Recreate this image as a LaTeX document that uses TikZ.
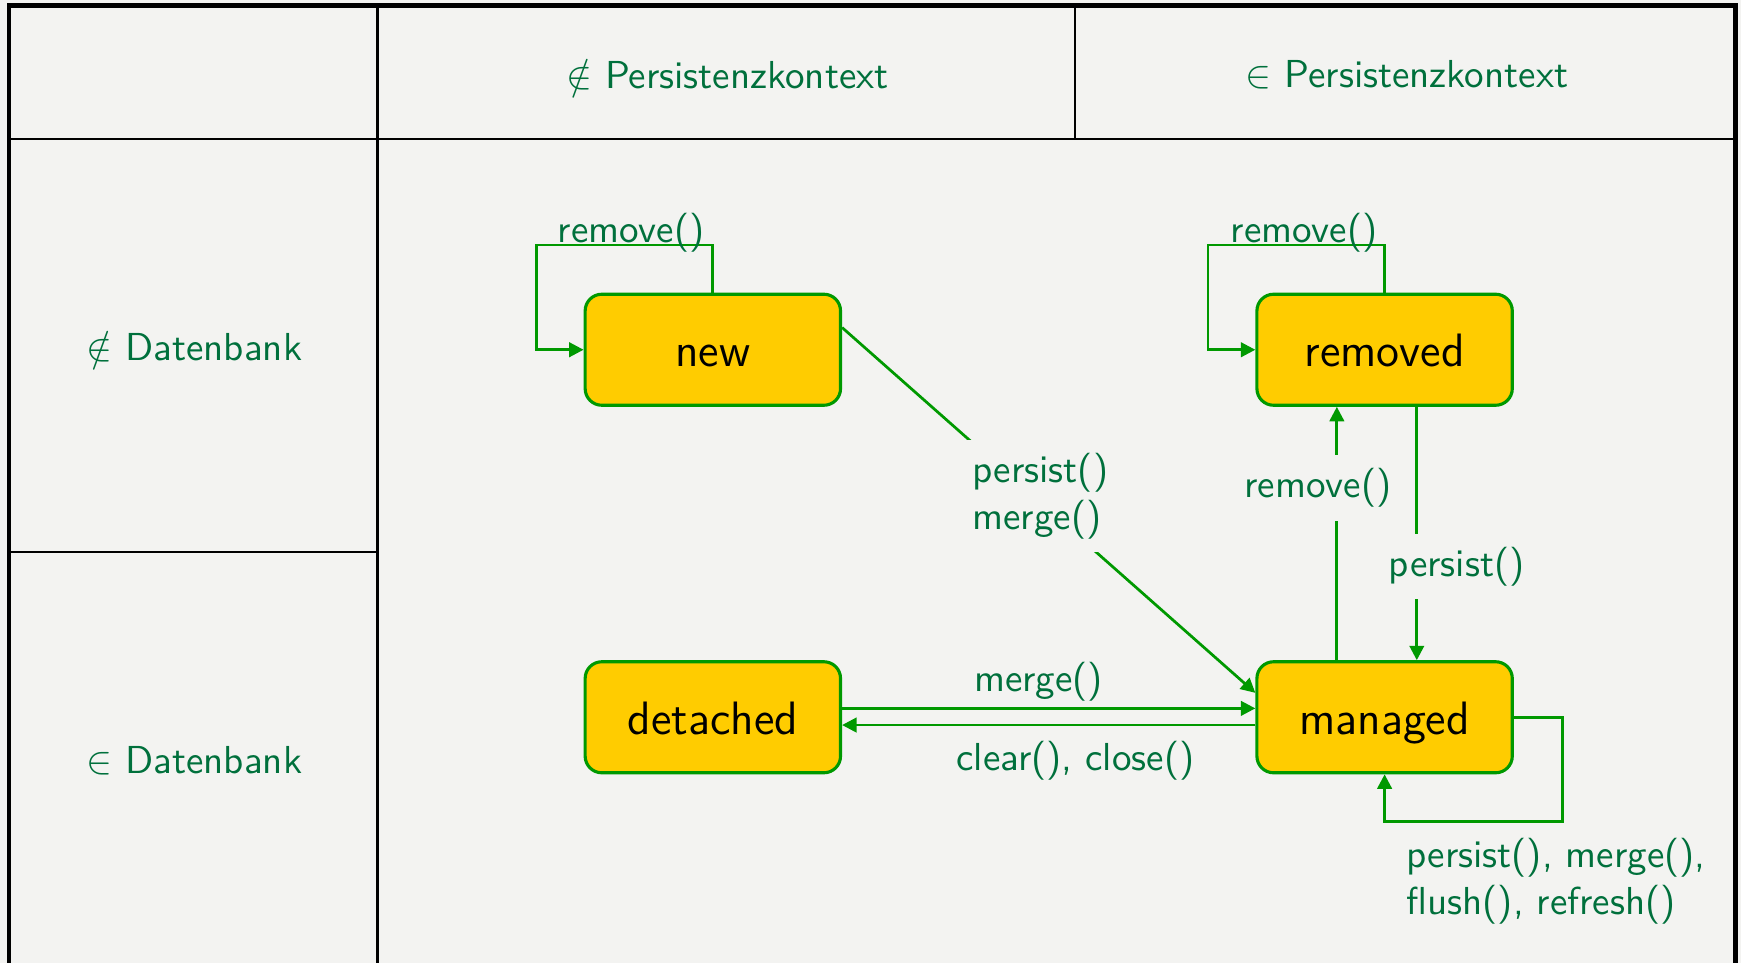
\documentclass[tikz,border=0pt]{standalone}
\usepackage{tikz}
\usepackage{amssymb, amsmath}
\usetikzlibrary{calc,positioning,arrows.meta}
\renewcommand{\familydefault}{\sfdefault}

\definecolor{bggray}{RGB}{243,243,241}
\definecolor{linegreen}{RGB}{0,153,0}
\definecolor{textgreen}{RGB}{0,112,60}
\definecolor{stategold}{RGB}{255,204,0}

\tikzset{
  zustand/.style={draw=linegreen,fill=stategold,line width=0.8pt,rounded corners=0.15cm,minimum width=2.3cm,minimum height=1cm,font=\large,text height=10pt,text depth=1.4pt},
  trans/.style={draw=linegreen,line width=0.7pt,-{Triangle[length=1.3mm,width=1.3mm]}},
  lbl/.style={text=textgreen,inner sep=0.5mm},
  gap/.style={lbl,fill=bggray,inner sep=1.2mm},
  cell/.style={draw=none,fill=none,text=textgreen}
}

\begin{document}
\begin{tikzpicture}
    % Hintergrund
    \fill[bggray] (0,0) rectangle (15.68,-8.67);
    \useasboundingbox (0,0) rectangle (15.68,-8.67);

    % Tabelle
    \draw[line width=1.2pt] (0.08,-8.67) -- (0.08,-0.05) -- (15.63,-0.05) -- (15.63,-8.67);
    \draw[line width=0.6pt] (0.08,-1.25) -- (15.63,-1.25);
    \draw[line width=0.6pt] (3.40,-0.05) -- (3.40,-8.67);
    \draw[line width=0.6pt] (9.68,-0.05) -- (9.68,-1.25);
    \draw[line width=0.6pt] (0.08,-4.97) -- (3.40,-4.97);

    % Kopfzeile und Zeilen
    \node[cell] (pkout) at (6.55,-0.67) {$\notin$ Persistenzkontext};
    \node[cell] (pkin) at (12.67,-0.67) {$\in$ Persistenzkontext};
    \node[cell] (dbout) at (1.75,-3.12) {$\notin$ Datenbank};
    \node[cell] (dbin) at (1.75,-6.85) {$\in$ Datenbank};

    % Zustaende
    \node[zustand] (new) at (6.42,-3.15) {new};
    \node[zustand] (removed) at (12.47,-3.15) {removed};
    \node[zustand] (detached) at (6.42,-6.46) {detached};
    \node[zustand] (managed) at (12.47,-6.46) {managed};

    % Schleifen
    \draw[trans] (new.north) -- ++(0,0.43) -- node[lbl,anchor=base,yshift=0.02cm,xshift=0.06cm] (lnew) {remove()} ++(-1.59,0) |- (new.west);
    \draw[trans] (removed.north) -- ++(0,0.43) -- node[lbl,anchor=base,yshift=0.02cm,xshift=0.07cm] (lremoved) {remove()} ++(-1.59,0) |- (removed.west);
    \draw[trans] (managed.east) -- ++(0.44,0) -- ++(0,-0.94) -| (managed.south);
    \node[lbl,anchor=north west,align=left] (lmanaged) at ($(managed.south)+(0.14,-0.52)$) {persist(), merge(),\\flush(), refresh()};

    % Uebergaenge
    \draw[trans] ($(new.east)+(0,0.2)$) -- node[gap,align=left,pos=0.48,yshift=0.06cm] (lnewman) {persist()\\merge()} ($(managed.west)+(0,0.22)$);
    \draw[trans] ($(managed.north)+(-0.43,0)$) -- node[gap,pos=0.68,xshift=-0.17cm] (lremove) {remove()} ($(removed.south)+(-0.43,0)$);
    \draw[trans] ($(removed.south)+(0.29,0)$) -- node[gap,pos=0.63,xshift=0.36cm] (lpersist) {persist()} ($(managed.north)+(0.29,0)$);
    \draw[trans] ($(detached.east)+(0,0.08)$) -- node[lbl,above,xshift=-0.09cm] (lmerge) {merge()} ($(managed.west)+(0,0.08)$);
    \draw[trans] ($(managed.west)+(0,-0.07)$) -- node[lbl,below,xshift=0.24cm,yshift=-0.08cm] (lclear) {clear(), close()} ($(detached.east)+(0,-0.07)$);
\end{tikzpicture}
\end{document}
